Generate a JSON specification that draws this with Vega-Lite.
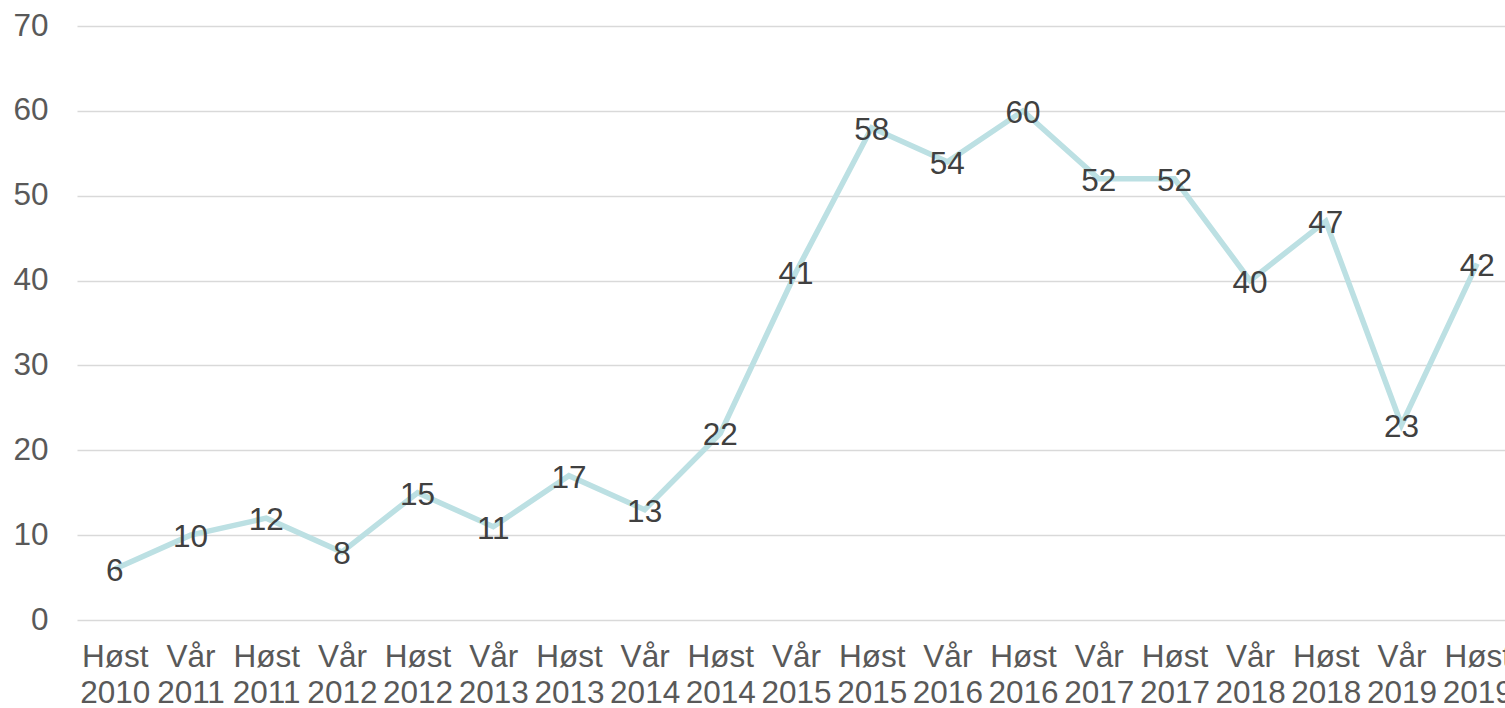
{
  "$schema": "https://vega.github.io/schema/vega-lite/v6.json",
  "width": 1438,
  "height": 594,
  "autosize": {"type": "none"},
  "padding": {"left": 77, "top": 26, "right": -10, "bottom": 88},
  "background": "white",
  "config": {"view": {"stroke": null}, "font": "Liberation Sans"},
  "data": {"values": [
    {"period": "Høst 2010", "value": 6},
    {"period": "Vår 2011", "value": 10},
    {"period": "Høst 2011", "value": 12},
    {"period": "Vår 2012", "value": 8},
    {"period": "Høst 2012", "value": 15},
    {"period": "Vår 2013", "value": 11},
    {"period": "Høst 2013", "value": 17},
    {"period": "Vår 2014", "value": 13},
    {"period": "Høst 2014", "value": 22},
    {"period": "Vår 2015", "value": 41},
    {"period": "Høst 2015", "value": 58},
    {"period": "Vår 2016", "value": 54},
    {"period": "Høst 2016", "value": 60},
    {"period": "Vår 2017", "value": 52},
    {"period": "Høst 2017", "value": 52},
    {"period": "Vår 2018", "value": 40},
    {"period": "Høst 2018", "value": 47},
    {"period": "Vår 2019", "value": 23},
    {"period": "Høst 2019", "value": 42}
  ]},
  "encoding": {
    "x": {
      "field": "period", "type": "ordinal", "sort": null,
      "scale": {"type": "point", "padding": 0.5},
      "axis": {
        "title": null, "labelAngle": 0, "ticks": false, "domain": false, "grid": false,
        "labelFontSize": 31.5, "labelColor": "#595959", "labelPadding": 21,
        "labelExpr": "split(datum.label, ' ')", "labelLineHeight": 36,
        "labelOverlap": false, "labelBound": false, "labelFlush": false
      }
    },
    "y": {
      "field": "value", "type": "quantitative",
      "scale": {"domain": [0, 70], "nice": false},
      "axis": {
        "title": null, "values": [0, 10, 20, 30, 40, 50, 60, 70],
        "ticks": false, "domain": false,
        "gridColor": "#d9d9d9", "gridWidth": 1.5,
        "labelFontSize": 31.5, "labelColor": "#595959", "labelPadding": 29
      }
    }
  },
  "layer": [
    {"mark": {"type": "line", "color": "#BCE0E3", "strokeWidth": 5.5}},
    {
      "mark": {"type": "text", "fontSize": 31.5, "color": "#404040", "baseline": "middle", "align": "center", "dy": 3},
      "encoding": {"text": {"field": "value", "type": "quantitative"}}
    }
  ]
}
